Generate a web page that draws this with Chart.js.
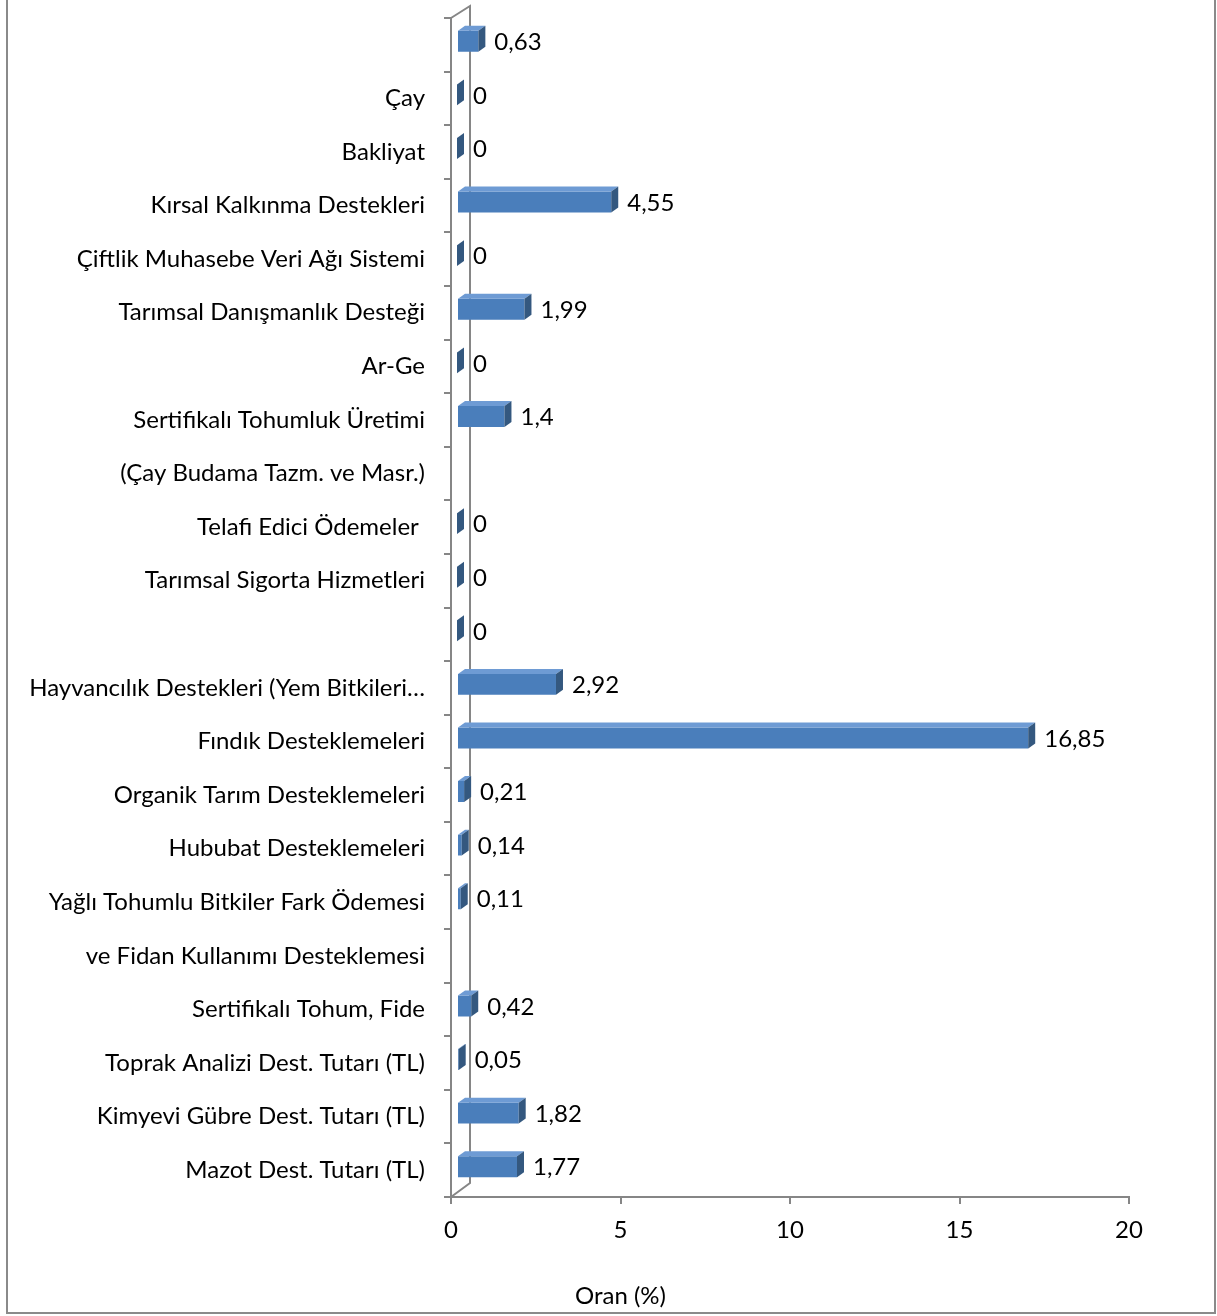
<!DOCTYPE html>
<html>
<head>
<meta charset="utf-8">
<script src="https://cdn.jsdelivr.net/npm/chart.js@4/dist/chart.umd.min.js"></script>
<style>
html,body{margin:0;padding:0;background:#fff;}
canvas{display:block;}
</style>
</head>
<body>
<canvas id="c" width="1217" height="1316"></canvas>
<script>
const categories = [
  "", "Çay", "Bakliyat", "Kırsal Kalkınma Destekleri", "Çiftlik Muhasebe Veri Ağı Sistemi",
  "Tarımsal Danışmanlık Desteği", "Ar-Ge", "Sertifikalı Tohumluk Üretimi",
  "(Çay Budama Tazm. ve Masr.)", "Telafi Edici Ödemeler ", "Tarımsal Sigorta Hizmetleri", "",
  "Hayvancılık Destekleri (Yem Bitkileri…", "Fındık Desteklemeleri", "Organik Tarım Desteklemeleri",
  "Hububat Desteklemeleri", "Yağlı Tohumlu Bitkiler Fark Ödemesi", "ve Fidan Kullanımı Desteklemesi",
  "Sertifikalı Tohum, Fide", "Toprak Analizi Dest. Tutarı (TL)", "Kimyevi Gübre Dest. Tutarı (TL)",
  "Mazot Dest. Tutarı (TL)"
];
const values = [0.63, 0, 0, 4.55, 0, 1.99, 0, 1.4, null, 0, 0, 0, 2.92, 16.85, 0.21, 0.14, 0.11, null, 0.42, 0.05, 1.82, 1.77];
const xTicks = [0, 5, 10, 15, 20];
const axisTitle = "Oran (%)";

const FONT = "Lato";
const FS = 24;
const AXIS_COLOR = "#868686";
const DX = 7, DY = -5;          // 3D depth
const SHIFT_X = 6, SHIFT_Y = -3.5; // bars sit mid-depth

function fmt(v){ return String(v).replace('.', ','); }

const threeD = {
  id: 'threeD',
  beforeDatasetsDraw(chart){
    const {ctx, chartArea:a} = chart;
    ctx.save();
    ctx.strokeStyle = AXIS_COLOR;
    ctx.lineWidth = 2;
    ctx.beginPath();
    ctx.moveTo(a.left, a.top);
    ctx.lineTo(a.left + 19, a.top - 12);
    ctx.lineTo(a.left + 19, a.bottom - 14);
    ctx.lineTo(a.left, a.bottom);
    ctx.stroke();
    ctx.restore();
    ctx.save();
    ctx.translate(SHIFT_X, SHIFT_Y);
  },
  afterDatasetsDraw(chart){
    const {ctx} = chart;
    const meta = chart.getDatasetMeta(0);
    meta.data.forEach((bar, i) => {
      const v = values[i];
      if (v === null || v === undefined) return;
      const x0 = bar.base, x1 = bar.x;
      const yT = bar.y - bar.height/2, yB = bar.y + bar.height/2;
      if (x1 > x0) {
        ctx.fillStyle = '#6e9bd4';
        ctx.beginPath();
        ctx.moveTo(x0, yT); ctx.lineTo(x0+DX, yT+DY); ctx.lineTo(x1+DX, yT+DY); ctx.lineTo(x1, yT);
        ctx.closePath(); ctx.fill();
      }
      ctx.fillStyle = '#34587f';
      ctx.beginPath();
      ctx.moveTo(x1, yT); ctx.lineTo(x1+DX, yT+DY); ctx.lineTo(x1+DX, yB+DY); ctx.lineTo(x1, yB);
      ctx.closePath(); ctx.fill();
      ctx.fillStyle = '#000';
      ctx.font = FS + 'px ' + FONT;
      ctx.textAlign = 'left';
      ctx.textBaseline = 'middle';
      ctx.fillText(fmt(v), x1 + DX + 9, bar.y + 1);
    });
    ctx.restore();
  },
  afterDraw(chart){
    const {ctx, chartArea:a, height} = chart;
    ctx.save();
    ctx.strokeStyle = '#8a8a8a';
    ctx.lineWidth = 2;
    ctx.strokeRect(7, -5, 1208, height + 2);
    ctx.fillStyle = '#000';
    ctx.font = FS + 'px ' + FONT;
    ctx.textAlign = 'center';
    ctx.textBaseline = 'middle';
    ctx.fillText(axisTitle, a.left + (a.right - a.left) * 0.25, 1296);
    ctx.restore();
  }
};

new Chart(document.getElementById('c'), {
  type: 'bar',
  data: {
    labels: categories,
    datasets: [{
      data: values,
      backgroundColor: '#4a7ebb',
      borderWidth: 0,
      barPercentage: 0.39,
      categoryPercentage: 1
    }]
  },
  options: {
    indexAxis: 'y',
    responsive: false,
    animation: false,
    events: [],
    layout: { padding: { top: 18, right: 88, bottom: 0, left: 0 } },
    plugins: { legend: { display: false }, tooltip: { enabled: false }, title: { display: false } },
    scales: {
      x: {
        min: 0, max: 20,
        afterFit(s){ s.height = 119; s.paddingLeft = 0; s.paddingRight = 0; },
        afterBuildTicks(s){ s.ticks = xTicks.map(v => ({value: v})); },
        border: { display: true, color: AXIS_COLOR, width: 2 },
        grid: { drawOnChartArea: false, drawTicks: true, tickLength: 7, color: AXIS_COLOR, lineWidth: 2 },
        ticks: { color: '#000', font: { family: FONT, size: FS }, padding: 12, maxRotation: 0 }
      },
      y: {
        afterFit(s){ s.width = 451; s.paddingTop = 0; s.paddingBottom = 0; },
        border: { display: true, color: AXIS_COLOR, width: 2 },
        grid: { drawOnChartArea: false, drawTicks: true, tickLength: 7, color: AXIS_COLOR, lineWidth: 2, offset: true },
        ticks: { color: '#000', font: { family: FONT, size: FS }, padding: 19, autoSkip: false }
      }
    }
  },
  plugins: [threeD]
});
</script>
</body>
</html>
